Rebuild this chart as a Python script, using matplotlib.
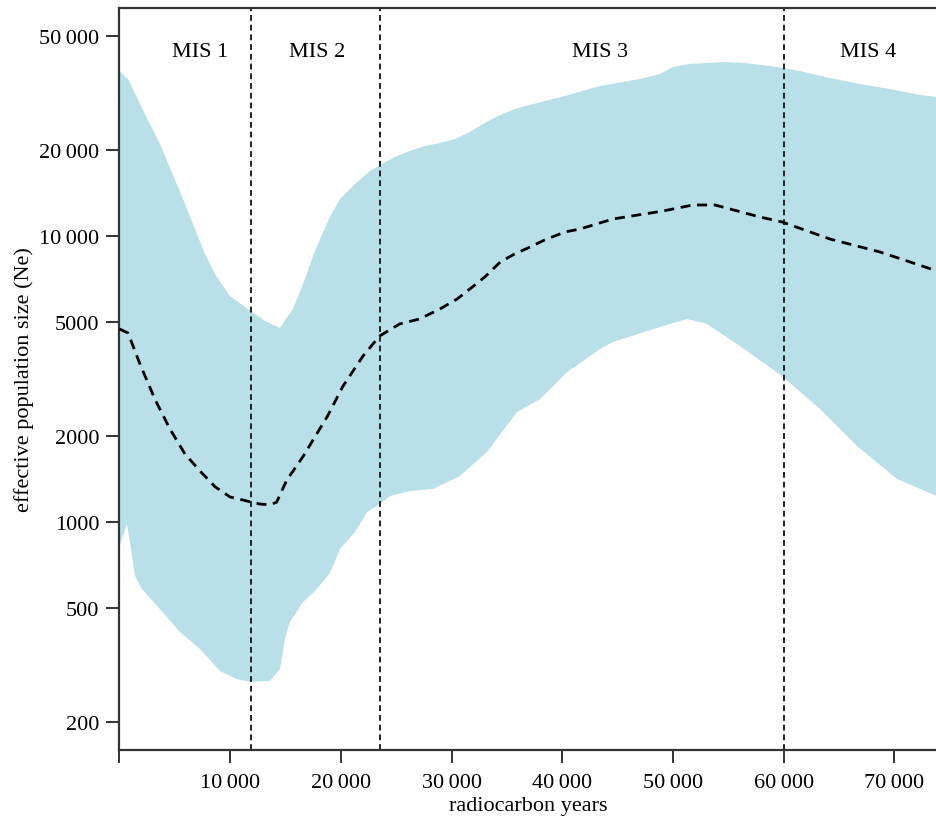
"""
Bayesian skyline style plot: effective population size through time,
with marine isotope stage (MIS) boundaries.
"""

import numpy as np
import matplotlib
matplotlib.use("Agg")
import matplotlib.pyplot as plt
from matplotlib.ticker import FixedLocator, NullLocator

######################### data #######################################

# median Ne (radiocarbon years, Ne)
median_years = [0, 770, 1850, 3200, 4560, 5920, 7270, 8630, 9980, 11500, 12700,
                13600, 14200, 15100, 16600, 18800, 20200, 22000, 23500, 25300,
                27100, 28950, 30500, 31650, 33000, 34400, 35700, 37100, 38400,
                40240, 41600, 44580, 49100, 51800, 53800, 55150, 57860, 59850,
                64180, 68700, 73850]
median_ne = [4730, 4580, 3570, 2690, 2115, 1730, 1510, 1330, 1225, 1186, 1157,
             1150, 1175, 1400, 1700, 2350, 2990, 3805, 4470, 4923,
             5125, 5555, 6019, 6523, 7184, 8106, 8648, 9146, 9676,
             10318, 10568, 11455, 12216, 12820, 12820, 12413, 11640, 11183,
             9750, 8786, 7540]

# upper 95% HPD
upper_years = [0, 770, 2300, 3660, 5740, 7720, 8630, 9980, 11970, 13140, 14500,
               15680, 16760, 17480, 18120, 19020, 19920, 21270, 22630, 23530,
               24890, 26240, 27600, 28950, 30310, 31660, 33010, 34370, 35730,
               37080, 38440, 40240, 43400, 47020, 48830, 50000, 51530, 54510,
               56500, 58760, 59930, 61470, 64180, 66890, 69600, 72310, 73850]
upper_ne = [37650, 35320, 26650, 20940, 13455, 8645, 7360, 6166, 5423, 5044, 4767,
            5555, 7070, 8505, 9750, 11640, 13455, 15180, 16850, 17680,
            18860, 19800, 20610, 21110, 21800, 23070, 24800, 26440, 27750,
            28660, 29600, 30810, 33380, 35320, 36770, 38900, 39840, 40490,
            40180, 39220, 38600, 37650, 35600, 33920, 32580, 31050, 30550]

# lower 95% HPD
lower_years = [0, 230, 680, 1040, 1400, 2030, 3660, 5470, 7270, 9080, 10620,
               11790, 13600, 14500, 14950, 15400, 16580, 17660, 19020, 19920,
               21270, 22360, 23530, 24430, 26240, 28320, 30760, 33200, 35910,
               37990, 40430, 43410, 44580, 49100, 51260, 53070, 56050, 59850,
               63280, 66620, 70240, 73850]
lower_ne = [825, 873, 985, 806, 649, 584, 497, 413, 361, 302, 283,
            277, 279, 307, 391, 448, 526, 575, 664, 806,
            924, 1085, 1157, 1234, 1285, 1306, 1450, 1759, 2425,
            2692, 3345, 4026, 4259, 4845, 5125, 4923, 4124, 3240,
            2485, 1846, 1415, 1234]

mis_bounds = [11900, 23500, 60000]
mis_labels = ['MIS 1', 'MIS 2', 'MIS 3', 'MIS 4']
mis_label_x = [7270, 17840, 43400, 67600]

xticks = [0, 10000, 20000, 30000, 40000, 50000, 60000, 70000]
xticklabels = ['', '10\u2009000', '20\u2009000', '30\u2009000', '40\u2009000',
               '50\u2009000', '60\u2009000', '70\u2009000']
yticks = [200, 500, 1000, 2000, 5000, 10000, 20000, 50000]
yticklabels = ['200', '500', '1000', '2000', '5000', '10\u2009000',
               '20\u2009000', '50\u2009000']

######################### plot #######################################

plt.rcParams['font.family'] = ['Liberation Serif', 'DejaVu Serif']
plt.rcParams['font.size'] = 16

fig = plt.figure(figsize=(9.37, 8.2), dpi=100)
ax = fig.add_axes([0.1275, 0.0841, 0.8725, 0.9049])

band_x = np.concatenate([upper_years, lower_years[::-1]])
band_y = np.concatenate([upper_ne, lower_ne[::-1]])
ax.fill(band_x, band_y, color='#b9dfe9', lw=0, zorder=1)

ax.plot(median_years, median_ne, color='black', lw=2.0,
        linestyle=(0, (3.6, 2.4)), zorder=3)

for b in mis_bounds:
    ax.axvline(b, color='#222222', lw=1.4, linestyle=(0, (3, 2)), zorder=2)

for lab, xl in zip(mis_labels, mis_label_x):
    ax.text(xl, 0.942, lab, transform=ax.get_xaxis_transform(),
            ha='center', va='center', fontsize=16)

ax.set_yscale('log')
ax.set_xlim(0, 73850)
ax.set_ylim(160, 62500)

ax.xaxis.set_major_locator(FixedLocator(xticks))
ax.set_xticklabels(xticklabels)
ax.yaxis.set_major_locator(FixedLocator(yticks))
ax.yaxis.set_minor_locator(NullLocator())
ax.set_yticklabels(yticklabels)

ax.tick_params(axis='both', which='major', length=9.5, width=1.4,
               color='#333333', labelsize=16)
ax.tick_params(axis='x', pad=7)
ax.tick_params(axis='y', pad=5)

for side in ['left', 'bottom', 'top']:
    ax.spines[side].set_color('#333333')
    ax.spines[side].set_linewidth(1.6)
ax.spines['right'].set_visible(False)

ax.set_xlabel('radiocarbon years', fontsize=16, labelpad=3)
ax.set_ylabel('effective population size (Ne)', fontsize=16, labelpad=4)

fig.savefig('out.png', dpi=100)
